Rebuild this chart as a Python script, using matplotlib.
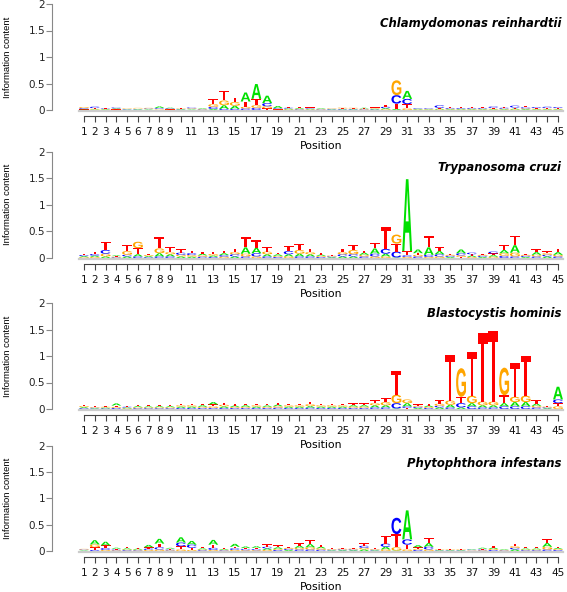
import numpy as np
import matplotlib
matplotlib.use('Agg')
import matplotlib.pyplot as plt
from matplotlib.textpath import TextPath
from matplotlib.patches import PathPatch
from matplotlib.font_manager import FontProperties
from matplotlib.transforms import Affine2D

positions = np.arange(1, 46)
letters = ['A', 'C', 'G', 'T']
xtick_labels = [str(p) if (p < 10 or p % 2 == 1) else '' for p in positions]

# information content per letter, one list per base, 45 positions
chl_A = [.012,.010,.010,.012,.008,.010,.010,.030,.012,.010,.010,.012,.02,.07,.06,.17,.28,.14,.04,.015,
         .015,.012,.012,.010,.010,.010,.012,.012,.02,.02,.15,.012,.010,.015,.012,.012,.012,.012,.012,.012,
         .015,.015,.012,.012,.012]
chl_C = [.015,.025,.010,.015,.008,.008,.010,.015,.012,.008,.015,.010,.04,.02,.02,.03,.04,.06,.015,.015,
         .012,.012,.010,.010,.010,.010,.010,.010,.025,.16,.10,.012,.012,.045,.015,.015,.015,.015,.025,.018,
         .035,.02,.018,.022,.018]
chl_G = [.018,.012,.008,.010,.010,.012,.012,.010,.010,.010,.012,.010,.05,.09,.07,.03,.05,.04,.01,.012,
         .012,.010,.010,.010,.015,.012,.010,.012,.015,.28,.03,.010,.010,.012,.012,.010,.012,.012,.012,.012,
         .012,.015,.012,.012,.012]
chl_T = [.010,.015,.012,.010,.008,.010,.008,.012,.010,.010,.010,.015,.10,.18,.08,.10,.12,.03,.01,.015,
         .015,.015,.012,.010,.010,.010,.010,.015,.03,.10,.08,.012,.015,.015,.015,.015,.015,.018,.015,.018,
         .02,.025,.015,.015,.015]

try_A = [.02,.025,.03,.015,.03,.04,.02,.06,.04,.03,.025,.03,.025,.035,.03,.12,.10,.04,.03,.04,
         .05,.04,.025,.015,.03,.03,.04,.10,.05,.01,1.35,.07,.14,.06,.02,.07,.025,.02,.03,.06,
         .14,.02,.05,.03,.05]
try_C = [.02,.03,.07,.012,.03,.03,.015,.03,.03,.04,.035,.025,.02,.03,.04,.03,.06,.03,.02,.06,
         .03,.03,.02,.015,.04,.04,.03,.05,.09,.11,.03,.03,.04,.04,.02,.04,.03,.02,.035,.04,
         .03,.02,.03,.03,.03]
try_G = [.015,.02,.05,.012,.07,.12,.02,.09,.04,.03,.03,.025,.03,.025,.04,.05,.03,.05,.02,.03,
         .07,.04,.02,.015,.04,.08,.03,.03,.03,.17,.02,.03,.02,.03,.02,.03,.02,.02,.025,.05,
         .07,.02,.03,.03,.03]
try_T = [.02,.045,.15,.012,.12,.115,.025,.21,.09,.06,.04,.04,.035,.05,.06,.19,.14,.08,.03,.09,
         .12,.06,.025,.015,.06,.10,.04,.11,.41,.15,.08,.03,.22,.07,.02,.02,.025,.02,.03,.10,
         .18,.02,.055,.035,.06]

bla_A = [.02,.012,.015,.04,.015,.02,.018,.02,.02,.025,.025,.028,.045,.03,.025,.028,.025,.025,.03,.025,
         .025,.03,.025,.025,.025,.028,.028,.04,.04,.01,.06,.02,.025,.03,.05,.03,.06,.04,.04,.06,
         .08,.08,.04,.015,.24]
bla_C = [.015,.012,.012,.02,.015,.015,.015,.015,.015,.02,.02,.02,.02,.02,.02,.02,.02,.02,.025,.02,
         .02,.025,.02,.02,.02,.02,.02,.03,.03,.10,.03,.02,.02,.03,.03,.08,.05,.03,.03,.05,
         .05,.05,.03,.015,.07]
bla_G = [.02,.012,.015,.02,.012,.018,.017,.018,.018,.025,.025,.022,.03,.03,.02,.022,.025,.022,.028,.025,
         .025,.035,.025,.025,.025,.025,.025,.04,.06,.16,.07,.02,.02,.04,.08,.54,.14,.07,.07,.52,
         .10,.12,.03,.015,.05]
bla_T = [.02,.014,.015,.025,.018,.022,.02,.022,.022,.03,.03,.03,.035,.04,.028,.03,.03,.028,.037,.03,
         .03,.04,.03,.03,.03,.032,.032,.06,.07,.44,.02,.025,.025,.07,.86,.12,.82,1.30,1.34,.15,
         .63,.75,.07,.015,.06]

phy_A = [.01,.08,.07,.02,.02,.018,.045,.09,.018,.10,.07,.02,.09,.015,.055,.03,.03,.03,.03,.02,
         .04,.06,.03,.012,.015,.015,.03,.012,.05,.01,.55,.04,.07,.01,.01,.01,.01,.02,.025,.012,
         .03,.018,.018,.07,.02]
phy_C = [.01,.02,.035,.015,.015,.012,.025,.04,.015,.07,.06,.015,.04,.012,.03,.02,.02,.03,.02,.02,
         .03,.03,.025,.012,.015,.015,.04,.012,.06,.31,.10,.02,.05,.008,.008,.008,.01,.015,.02,.01,
         .03,.015,.015,.03,.018]
phy_G = [.012,.055,.02,.012,.015,.015,.02,.03,.012,.03,.02,.015,.02,.012,.02,.015,.015,.02,.02,.02,
         .03,.04,.025,.012,.015,.015,.03,.012,.03,.06,.03,.02,.03,.01,.01,.01,.008,.012,.02,.01,
         .03,.015,.015,.05,.018]
phy_T = [.008,.05,.05,.015,.02,.018,.025,.07,.015,.06,.04,.02,.06,.015,.03,.02,.025,.045,.035,.025,
         .05,.07,.04,.014,.018,.02,.05,.015,.14,.25,.09,.03,.09,.01,.01,.01,.008,.015,.035,.012,
         .05,.022,.022,.08,.025]

panels = [
    ('Chlamydomonas reinhardtii', [chl_A, chl_C, chl_G, chl_T]),
    ('Trypanosoma cruzi', [try_A, try_C, try_G, try_T]),
    ('Blastocystis hominis', [bla_A, bla_C, bla_G, bla_T]),
    ('Phytophthora infestans', [phy_A, phy_C, phy_G, phy_T]),
]

colors = {'A': '#00E000', 'C': '#0000FF', 'G': '#FFA500', 'T': '#FF0000'}

W, H = 567, 592
fig = plt.figure(figsize=(W / 100, H / 100), dpi=100)

# letter shapes
fp = FontProperties(family='Liberation Sans', weight='bold')
glyphs = {}
for L in letters:
    p = TextPath((0, 0), L, size=1, prop=fp)
    glyphs[L] = (p, p.get_extents())


def draw_letter(ax, L, x, y0, h, w=0.92):
    p, ext = glyphs[L]
    tr = Affine2D().translate(-ext.x0, -ext.y0) \
        .scale(w / ext.width, h / ext.height).translate(x - w / 2, y0)
    ax.add_patch(PathPatch(tr.transform_path(p), fc=colors[L], lw=0))


# pixel rows of value 0 and value 2 per panel
rows = [(110, 4), (258, 151.5), (409, 303), (551, 445.5)]
title_y = [23, 168, 313, 464]
px_per_pos = (558 - 84) / 44.0
left_px = 84 - 0.5 * px_per_pos

for i, (name, vals) in enumerate(panels):
    y0, y2 = rows[i]
    ax = fig.add_axes([left_px / W, (H - y0) / H,
                       45 * px_per_pos / W, (y0 - y2) / H])
    ax.set_xlim(0.5, 45.5)
    ax.set_ylim(0, 2)
    ax.patch.set_visible(False)

    ax.plot([0.5, 45.5], [-0.018, -0.018], color='#cccccc', lw=1.6,
            clip_on=False, zorder=0)

    vals = np.array(vals)
    for j, pos in enumerate(positions):
        col = vals[:, j]
        order = np.argsort(col)
        base = 0.0
        for k in order:
            draw_letter(ax, letters[k], pos, base, col[k])
            base += col[k]

    for s in ['top', 'right']:
        ax.spines[s].set_visible(False)
    ax.spines['left'].set_position(('outward', (left_px - 52) * 0.72))
    ax.spines['left'].set_bounds(0, 2)
    ax.spines['left'].set_color('#888888')
    ax.spines['bottom'].set_position(('outward', 6 * 0.72))
    ax.spines['bottom'].set_bounds(1, 45)
    ax.spines['bottom'].set_color('#444444')

    ax.set_yticks([0, 0.5, 1, 1.5, 2])
    ax.set_yticklabels(['0', '0.5', '1', '1.5', '2'])
    ax.set_xticks(positions)
    ax.set_xticklabels(xtick_labels)
    ax.tick_params(axis='y', length=4, width=0.8, color='#888888', pad=1,
                   labelsize=7.5, labelcolor='#222222')
    ax.tick_params(axis='x', length=4, width=0.8, color='#444444', pad=4,
                   labelsize=7.5, labelcolor='#111111')

    fig.text(8 / W, (H - (y0 + y2) / 2) / H, 'Information content',
             rotation=90, ha='center', va='center', fontsize=6.8,
             family=['Liberation Sans Narrow', 'Liberation Sans'])
    fig.text(321 / W, (H - (y0 + 36)) / H, 'Position', ha='center',
             va='center', fontsize=7.8)
    fig.text(561 / W, (H - title_y[i]) / H, name, ha='right', va='center',
             fontsize=8.4, fontweight='bold', fontstyle='italic')

fig.savefig('out.png', dpi=100)
